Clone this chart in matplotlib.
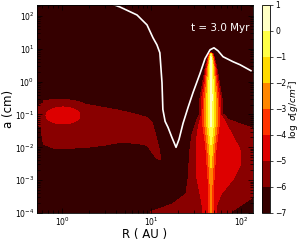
import numpy as np
import matplotlib
matplotlib.use('Agg')
import matplotlib.pyplot as plt
from matplotlib.ticker import LogLocator, NullFormatter

# ---------------- data ----------------
# white curve (R in AU, a in cm)
line_R = [3.62, 4.45, 6.89, 8.91, 10.4, 11.5, 12.4, 13.1, 13.4, 14.2, 15.3, 16.9,
          18.8, 20.3, 22.5, 25.6, 29.1, 34.8, 39.6, 45.1, 49.9, 55.3, 63.0, 81.4,
          97.5, 129.0]
line_a = [231, 187, 107, 53.4, 21.5, 13.2, 7.56, 0.933, 0.142, 0.0614, 0.0404,
          0.0201, 0.0100, 0.0175, 0.0534, 0.163, 0.464, 1.75, 4.98, 9.33, 10.7,
          8.70, 5.73, 4.04, 3.27, 2.15]

# colour levels of log sigma
levels = list(range(-7, 2))
x_ticks = [1, 10, 100]
y_ticks = [1e-4, 1e-3, 1e-2, 1e-1, 1e0, 1e1, 1e2]

# dust ring (plume) centre, log10 R
ring_logR = 1.665

# narrow core of the ring: peak log sigma and width (dex in R per level) vs log a
core_loga = [-3.970, -2.970, -2.061, -1.303, -0.545, 0.364, 0.727, 0.848, 0.909]
core_peak = [-2.8, -2.4, -1.2, 0.2, 0.6, 0.8, 0.6, -1.0, -9.0]
core_width = [0.020, 0.021, 0.020, 0.022, 0.019, 0.010, 0.006, 0.005, 0.004]

# broad halo of the ring: log R positions of the -6 and -5 levels vs log a
halo_loga = [-3.970, -3.727, -3.424, -2.970, -2.515, -2.061, -1.606, -1.152, -0.848]
halo_left6 = [0.983, 1.229, 1.385, 1.408, 1.419, 1.430, 1.453, 1.508, 1.575]
halo_left5 = [1.575, 1.564, 1.542, 1.508, 1.497, 1.497, 1.508, 1.542, 1.600]
halo_right5 = [1.721, 1.732, 1.777, 1.911, 2.000, 1.989, 1.899, 1.810, 1.730]
halo_right6 = [1.888, 2.022, 2.190, 2.436, 2.436, 2.436, 2.324, 1.855, 1.765]
halo_peak = -4.6

# inner-disc blob: per log R column, peak and top/bottom of the -6 level (log a)
blob_logR = [-0.279, -0.235, -0.201, -0.089, 0.089, 0.279, 0.469, 0.648, 0.838,
             0.950, 1.006, 1.039, 1.084, 1.106, 1.151]
blob_peak = [-6.8, -6.0, -5.5, -5.3, -5.3, -5.3, -5.3, -5.3, -5.3, -5.3, -5.4,
             -5.5, -5.8, -6.0, -7.0]
blob_top = [-0.9, -0.848, -0.576, -0.545, -0.606, -0.697, -0.788, -0.879, -1.0,
            -1.091, -1.242, -1.545, -2.0, -2.303, -2.4]
blob_bottom = [-1.6, -1.697, -1.909, -2.03, -2.03, -2.0, -1.939, -1.848, -1.879,
               -1.939, -2.152, -2.273, -2.394, -2.455, -2.5]

# brighter spot inside the blob (the -5 level ellipse)
spot_logR, spot_loga = 0.011, -1.03
spot_halfR, spot_halfa = 0.19, 0.258

# ---------------- build the field ----------------
u = np.linspace(-0.30, 2.16, 700)
v = np.linspace(-4.05, 2.40, 520)
U, V = np.meshgrid(u, v)

# core
Pc = np.interp(V, core_loga, core_peak)
Sc = np.interp(V, core_loga, core_width)
F_core = Pc - np.abs(U - ring_logR) / Sc

# halo
F_halo = np.full_like(U, -9.0)
for j, vv in enumerate(v):
    L6 = np.interp(vv, halo_loga, halo_left6)
    L5 = np.interp(vv, halo_loga, halo_left5)
    R5 = np.interp(vv, halo_loga, halo_right5)
    R6 = np.interp(vv, halo_loga, halo_right6)
    xp = [L6 - 0.3, L6, L5, ring_logR, R5, R6, R6 + 0.3]
    fp = [-8, -6, -5, halo_peak, -5, -6, -8]
    F_halo[j] = np.interp(u, xp, fp)
fade = np.clip((V - (-1.0)) / 0.3, 0, None) * 3.0
F_halo = F_halo - fade

# blob
Pb = np.interp(U, blob_logR, blob_peak)
Tb = np.interp(U, blob_logR, blob_top)
Bb = np.interp(U, blob_logR, blob_bottom)
mid = 0.5 * (Tb + Bb)
hw = 0.5 * (Tb - Bb)
F_blob = Pb - np.maximum(Pb + 6, 0.3) * ((V - mid) / hw) ** 2

# spot
r2 = ((U - spot_logR) / spot_halfR) ** 2 + ((V - spot_loga) / spot_halfa) ** 2
F_spot = -4.6 - 0.4 * r2

F = np.maximum.reduce([F_core, F_halo, F_blob, F_spot, np.full_like(U, -7.5)])
F = np.clip(F, -6.99, 0.99)

# ---------------- plot ----------------
fig = plt.figure(figsize=(3.0, 2.41), dpi=100)
ax = fig.add_axes([37/300, 1-213/241, 216/300, 208/241])
cs = ax.contourf(10**U, 10**V, F, levels=levels, cmap='hot')
ax.plot(line_R, line_a, color='white', lw=1.2)
ax.set_xscale('log')
ax.set_yscale('log')
ax.set_xlim(10**-0.279, 10**2.134)
ax.set_ylim(1e-4, 10**2.333)
ax.set_xticks(x_ticks)
ax.set_yticks(y_ticks)
ax.xaxis.set_minor_locator(LogLocator(base=10, subs=np.arange(2, 10)))
ax.yaxis.set_minor_locator(LogLocator(base=10, subs=np.arange(2, 10)))
ax.xaxis.set_minor_formatter(NullFormatter())
ax.yaxis.set_minor_formatter(NullFormatter())
ax.set_xlabel('R ( AU )', fontsize=8.5, labelpad=0)
ax.set_ylabel('a (cm)', fontsize=8.5, labelpad=0)
ax.tick_params(which='both', direction='in', top=True, right=True, labelsize=5.5,
               width=0.5, pad=2)
ax.tick_params(which='major', length=3.5)
ax.tick_params(which='minor', length=2)
for s in ax.spines.values():
    s.set_linewidth(0.6)
ax.text(0.847, 0.89, 't = 3.0 Myr', color='white', fontsize=7.5,
        ha='center', va='center', transform=ax.transAxes)

cax = fig.add_axes([262/300, 1-213/241, 8/300, 208/241])
cb = fig.colorbar(cs, cax=cax, ticks=levels)
cb.ax.tick_params(labelsize=5.5, width=0.5, length=2, pad=2)
cb.outline.set_linewidth(0.6)
cb.set_label(r'$\log\ \sigma[g/cm^2]$', fontsize=6.5, labelpad=0)

fig.savefig('out.png', dpi=100)
